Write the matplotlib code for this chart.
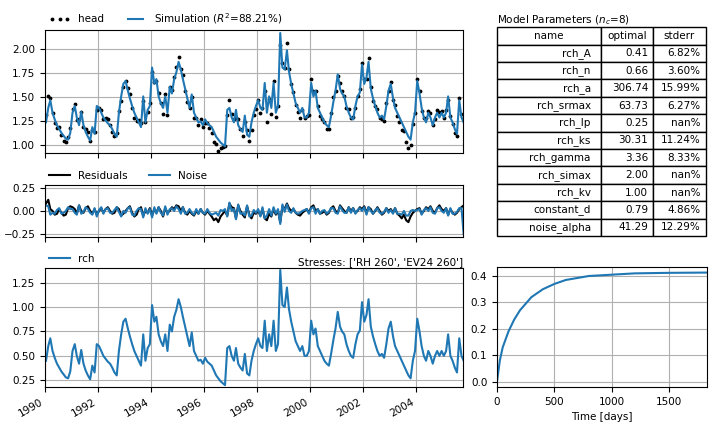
import numpy as np
import pandas as pd
import matplotlib
matplotlib.use("Agg")
import matplotlib.pyplot as plt

plt.rcParams["font.size"] = 7.5

# monthly recharge contribution (rch), Jan 1990 .. Oct 2005
rch = [
    0.45, 0.60, 0.68, 0.55, 0.48, 0.42, 0.38, 0.34, 0.31, 0.28, 0.27, 0.34,  # 1990
    0.55, 0.62, 0.50, 0.42, 0.56, 0.42, 0.35, 0.30, 0.26, 0.40, 0.33, 0.62,  # 1991
    0.60, 0.55, 0.50, 0.47, 0.44, 0.42, 0.38, 0.33, 0.30, 0.55, 0.72, 0.85,  # 1992
    0.88, 0.78, 0.70, 0.62, 0.55, 0.50, 0.45, 0.40, 0.72, 0.45, 0.58, 0.62,  # 1993
    1.02, 0.85, 0.90, 0.72, 0.65, 0.60, 0.72, 0.55, 0.82, 0.75, 0.90, 0.97,  # 1994
    1.08, 1.00, 0.90, 0.80, 0.70, 0.60, 0.74, 0.55, 0.50, 0.45, 0.46, 0.42,  # 1995
    0.48, 0.44, 0.42, 0.40, 0.35, 0.30, 0.27, 0.24, 0.22, 0.20, 0.58, 0.60,  # 1996
    0.50, 0.45, 0.58, 0.42, 0.38, 0.35, 0.52, 0.32, 0.30, 0.45, 0.55, 0.62,  # 1997
    0.68, 0.60, 0.58, 0.86, 0.55, 0.72, 0.60, 0.86, 0.55, 0.62, 1.38, 1.02,  # 1998
    1.00, 1.20, 0.98, 0.85, 0.75, 0.65, 0.60, 0.55, 0.60, 0.50, 0.50, 0.55,  # 1999
    0.86, 0.72, 0.78, 0.60, 0.55, 0.50, 0.45, 0.42, 0.40, 0.52, 0.66, 0.78,  # 2000
    0.95, 0.80, 0.75, 0.72, 0.62, 0.55, 0.50, 0.48, 0.62, 0.72, 0.76, 1.05,  # 2001
    0.85, 0.92, 1.08, 0.80, 0.70, 0.62, 0.55, 0.50, 0.52, 0.48, 0.62, 0.78,  # 2002
    0.85, 0.70, 0.60, 0.55, 0.50, 0.45, 0.40, 0.35, 0.30, 0.27, 0.45, 0.55,  # 2003
    0.88, 0.75, 0.60, 0.50, 0.45, 0.55, 0.50, 0.42, 0.50, 0.55, 0.50, 0.55,  # 2004
    0.50, 0.55, 0.72, 0.50, 0.45, 0.38, 0.33, 0.68, 0.50, 0.45,              # 2005
]
constant_d = 0.79

# monthly residuals (head - simulation) and noise
residuals = [
    0.08, 0.12, 0.02, 0.00, -0.04, -0.03, 0.02, -0.02, -0.05, -0.04, 0.03, 0.05,
    0.04, 0.02, -0.03, 0.06, 0.00, -0.02, 0.03, 0.05, 0.00, -0.03, 0.02, -0.04,
    0.00, 0.03, -0.02, 0.02, 0.04, 0.00, -0.03, -0.02, 0.04, 0.02, -0.05, -0.03,
    0.00, 0.03, 0.05, -0.02, -0.06, -0.04, 0.02, 0.04, -0.05, 0.00, -0.02, 0.03,
    -0.05, 0.02, -0.02, 0.04, 0.00, -0.06, 0.03, -0.02, 0.00, 0.04, 0.02, 0.06,
    0.05, 0.00, 0.04, -0.02, -0.04, 0.00, -0.03, -0.05, 0.00, -0.03, 0.02, -0.02,
    -0.04, 0.00, -0.03, -0.06, -0.10, -0.08, -0.12, -0.06, -0.03, 0.00, -0.05, 0.08,
    0.04, 0.03, -0.08, 0.06, 0.00, -0.04, -0.07, 0.05, -0.04, -0.08, -0.02, -0.03,
    0.00, -0.05, 0.02, -0.08, -0.10, -0.03, -0.06, 0.02, -0.04, 0.00, -0.12, 0.05,
    0.02, 0.08, 0.03, 0.00, 0.02, -0.02, -0.04, -0.05, -0.02, 0.00, 0.02, -0.02,
    0.04, 0.06, 0.00, 0.02, -0.03, -0.02, 0.00, -0.04, -0.02, 0.03, 0.05, 0.00,
    -0.02, 0.06, 0.03, 0.00, -0.02, 0.04, 0.00, 0.03, -0.02, 0.00, 0.04, 0.02,
    0.05, -0.02, 0.04, 0.02, -0.03, 0.00, 0.04, 0.00, -0.04, -0.02, 0.03, 0.00,
    0.02, -0.02, 0.03, -0.03, -0.05, -0.08, -0.04, -0.10, -0.12, -0.06, -0.02, 0.00,
    0.02, 0.03, -0.03, 0.00, 0.04, 0.02, 0.05, 0.00, -0.02, 0.03, 0.06, 0.02,
    0.00, 0.03, -0.04, 0.02, -0.02, -0.04, -0.02, 0.02, 0.04, 0.06,
]
noise = [
    0.06, 0.05, -0.04, -0.02, -0.03, 0.01, 0.03, -0.03, -0.02, 0.00, 0.04, 0.02,
    0.02, -0.02, -0.04, 0.06, -0.03, -0.01, 0.04, 0.02, -0.02, -0.04, 0.03, -0.06,
    0.01, 0.04, -0.03, 0.02, 0.03, -0.02, -0.02, 0.01, 0.04, -0.01, -0.06, 0.00,
    -0.02, 0.03, 0.04, -0.04, -0.05, 0.00, 0.03, 0.02, -0.07, 0.03, -0.03, 0.02,
    -0.07, 0.04, -0.03, 0.04, -0.02, -0.05, 0.05, -0.04, 0.02, 0.03, 0.00, 0.05,
    0.02, -0.03, 0.04, -0.03, -0.02, 0.02, -0.02, -0.04, 0.02, -0.03, 0.02, -0.02,
    -0.03, 0.02, -0.02, -0.04, -0.03, -0.02, -0.05, 0.01, 0.00, 0.02, -0.06, 0.09,
    0.00, 0.02, -0.09, 0.07, -0.03, -0.02, -0.05, 0.06, -0.06, -0.05, 0.01, -0.02,
    0.02, -0.06, 0.04, -0.08, -0.05, 0.02, -0.05, 0.04, -0.03, 0.02, -0.14, 0.07,
    -0.01, 0.07, 0.00, -0.02, 0.03, -0.02, -0.03, -0.02, 0.00, 0.01, 0.02, -0.03,
    0.03, 0.04, -0.03, 0.02, -0.03, 0.00, 0.01, -0.03, -0.01, 0.03, 0.03, -0.02,
    -0.03, 0.05, 0.01, -0.02, -0.02, 0.04, -0.02, 0.03, -0.03, 0.01, 0.03, 0.00,
    0.04, -0.04, 0.04, 0.00, -0.03, 0.01, 0.03, -0.02, -0.03, -0.01, 0.03, -0.02,
    0.01, -0.03, 0.03, -0.03, -0.03, -0.04, 0.00, -0.05, -0.05, 0.00, 0.01, 0.00,
    0.01, 0.02, -0.04, 0.01, 0.03, 0.00, 0.04, -0.02, -0.03, 0.03, 0.04, 0.00,
    -0.02, 0.03, -0.05, 0.03, -0.03, -0.03, -0.01, 0.03, 0.03, -0.25,
]

# step response of rch
step_days = [0, 25, 50, 100, 150, 200, 300, 400, 500, 600, 800, 1000, 1200, 1500, 1830]
step_vals = [0.0, 0.08, 0.13, 0.19, 0.235, 0.27, 0.32, 0.35, 0.37, 0.385, 0.40, 0.405, 0.41, 0.412, 0.413]

param_names = ["rch_A", "rch_n", "rch_a", "rch_srmax", "rch_lp", "rch_ks", "rch_gamma",
               "rch_simax", "rch_kv", "constant_d", "noise_alpha"]
param_opt = ["0.41", "0.66", "306.74", "63.73", "0.25", "30.31", "3.36", "2.00", "1.00", "0.79", "41.29"]
param_err = ["6.82%", "3.60%", "15.99%", "6.27%", "nan%", "11.24%", "8.33%", "nan%", "nan%", "4.86%", "12.29%"]

dates = pd.date_range("1990-01-01", periods=len(rch), freq="MS") + pd.Timedelta(days=14)
rch = np.array(rch)
sim = rch + constant_d
head = sim + np.array(residuals)

fig = plt.figure(figsize=(7.12, 4.24), dpi=100)
ax1 = fig.add_axes([0.0632, 0.639, 0.587, 0.290])
ax2 = fig.add_axes([0.0632, 0.441, 0.587, 0.123], sharex=ax1)
ax3 = fig.add_axes([0.0632, 0.087, 0.587, 0.281], sharex=ax1)
ax4 = fig.add_axes([0.698, 0.087, 0.295, 0.283])
axt = fig.add_axes([0.698, 0.443, 0.293, 0.493])

ax1.plot(dates, head, ".", color="k", markersize=3.5, label="head")
ax1.plot(dates, sim, color="C0", label="Simulation ($R^2$=88.21%)")
ax1.set_ylim(0.92, 2.2)
ax1.set_yticks([1.0, 1.25, 1.5, 1.75, 2.0])
ax1.legend(loc=(0, 1), ncol=2, frameon=False, numpoints=3)

ax2.plot(dates, residuals, color="k", label="Residuals")
ax2.plot(dates, noise, color="C0", label="Noise")
ax2.set_ylim(-0.28, 0.28)
ax2.set_yticks([-0.25, 0.0, 0.25])
ax2.legend(loc=(0, 1), ncol=2, frameon=False)

ax3.plot(dates, rch, color="C0", label="rch")
ax3.set_ylim(0.18, 1.4)
ax3.set_yticks([0.25, 0.5, 0.75, 1.0, 1.25])
ax3.legend(loc=(0, 1), ncol=1, frameon=False)
ax3.set_title("Stresses: ['RH 260', 'EV24 260']", loc="right", fontsize=7.5, pad=2)

ax1.set_xlim(pd.Timestamp("1990-01-01"), pd.Timestamp("2005-10-05"))
ticks = pd.date_range("1990-01-01", "2004-01-01", freq="2YS")
ax3.set_xticks(ticks)
ax3.set_xticklabels([str(t.year) for t in ticks], rotation=30, ha="right")
for ax in (ax1, ax2):
    plt.setp(ax.get_xticklabels(), visible=False)
for ax in (ax1, ax2, ax3, ax4):
    ax.grid(True)

ax4.plot(step_days, step_vals, color="C0")
ax4.set_xlim(0, 1830)
ax4.set_xlabel("Time [days]")

axt.axis("off")
cells = [[n, o, e] for n, o, e in zip(param_names, param_opt, param_err)]
tbl = axt.table(cellText=cells, colLabels=["name", "optimal", "stderr"],
                colWidths=[0.5, 0.25, 0.25], bbox=[0, 0, 1, 1], cellLoc="right")
tbl.auto_set_font_size(False)
tbl.set_fontsize(7.5)
for j in range(3):
    tbl[0, j].get_text().set_horizontalalignment("center")
axt.set_title("Model Parameters ($n_c$=8)", loc="left", fontsize=7.5, pad=3)

fig.savefig("out.png", dpi=100)
